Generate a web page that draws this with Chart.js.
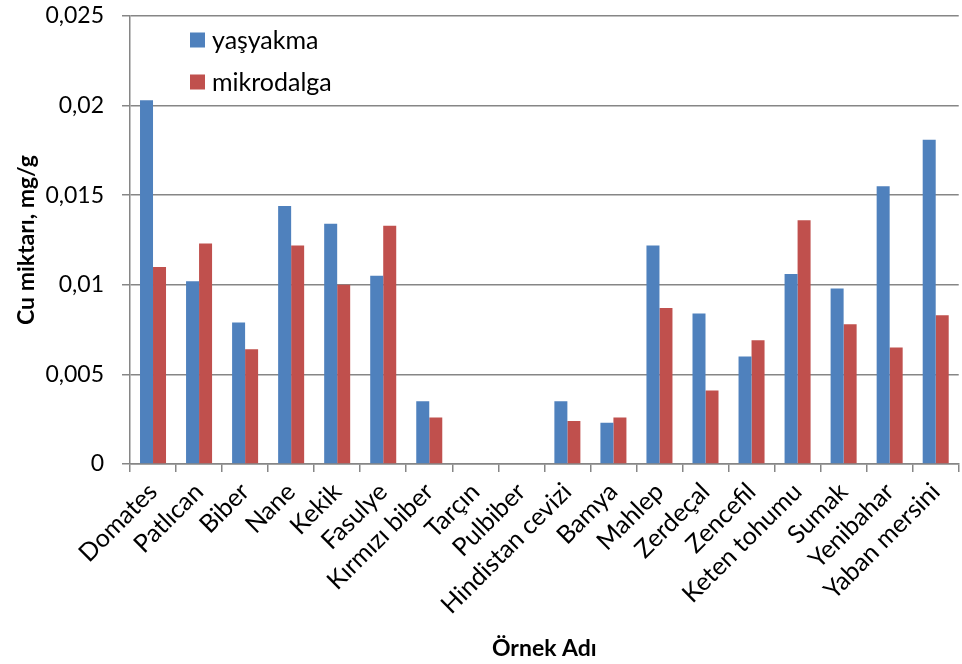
<!DOCTYPE html>
<html>
<head>
<meta charset="utf-8">
<script src="https://cdn.jsdelivr.net/npm/chart.js@4/dist/chart.umd.min.js"></script>
<style>
  html, body { margin: 0; padding: 0; background: #ffffff; }
  #wrap { width: 962px; height: 664px; }
</style>
</head>
<body>
<div id="wrap"><canvas id="c" width="962" height="664"></canvas></div>
<script>
// Sample names (x axis)
const categories = ['Domates', 'Patlıcan', 'Biber', 'Nane', 'Kekik', 'Fasulye',
  'Kırmızı biber', 'Tarçın', 'Pulbiber', 'Hindistan cevizi', 'Bamya', 'Mahlep',
  'Zerdeçal', 'Zencefil', 'Keten tohumu', 'Sumak', 'Yenibahar', 'Yaban mersini'];

// Cu content, mg/g — wet ashing
const yasyakma = [0.0203, 0.0102, 0.0079, 0.0144, 0.0134, 0.0105, 0.0035, 0, 0,
  0.0035, 0.0023, 0.0122, 0.0084, 0.0060, 0.0106, 0.0098, 0.0155, 0.0181];

// Cu content, mg/g — microwave digestion
const mikrodalga = [0.0110, 0.0123, 0.0064, 0.0122, 0.0100, 0.0133, 0.0026, 0, 0,
  0.0024, 0.0026, 0.0087, 0.0041, 0.0069, 0.0136, 0.0078, 0.0065, 0.0083];

// Y axis tick labels (decimal comma)
const yTickLabels = ['0', '0,005', '0,01', '0,015', '0,02', '0,025'];

const seriesNames = ['yaşyakma', 'mikrodalga'];
const seriesColors = ['#4F81BD', '#C0504D'];

const FONT = 'Lato';
const AXIS_GREY = '#868686';

Chart.defaults.font.family = FONT;
Chart.defaults.color = '#000000';

// Legend drawn inside the plot area, stacked vertically at the top left
const insideLegend = {
  id: 'insideLegend',
  afterDraw(chart) {
    const ctx = chart.ctx;
    const area = chart.chartArea;
    ctx.save();
    ctx.font = '25px ' + FONT;
    ctx.textBaseline = 'middle';
    ctx.textAlign = 'left';
    chart.data.datasets.forEach((ds, i) => {
      const cy = area.top + 24 + i * 42;
      ctx.fillStyle = ds.backgroundColor;
      ctx.fillRect(area.left + 60, cy - 7.5, 15, 15);
      ctx.fillStyle = '#000000';
      ctx.fillText(ds.label, area.left + 82, cy + 1);
    });
    ctx.restore();
  }
};

new Chart(document.getElementById('c'), {
  type: 'bar',
  data: {
    labels: categories,
    datasets: [
      { label: seriesNames[0], data: yasyakma, backgroundColor: seriesColors[0] },
      { label: seriesNames[1], data: mikrodalga, backgroundColor: seriesColors[1] }
    ]
  },
  options: {
    responsive: false,
    animation: false,
    devicePixelRatio: 1,
    layout: { padding: { top: 16, right: 3, left: 0, bottom: 0 } },
    datasets: {
      bar: { categoryPercentage: 0.565, barPercentage: 1.0, borderWidth: 0 }
    },
    plugins: {
      legend: { display: false },
      tooltip: { enabled: false }
    },
    scales: {
      x: {
        offset: true,
        grid: {
          offset: true,
          drawOnChartArea: false,
          drawTicks: true,
          tickLength: 8,
          color: AXIS_GREY,
          lineWidth: 1.5
        },
        border: { display: true, color: AXIS_GREY, width: 1.5 },
        ticks: {
          autoSkip: false,
          maxRotation: 45,
          minRotation: 45,
          padding: 5,
          font: { size: 25 },
          color: '#000000'
        },
        title: {
          display: true,
          text: 'Örnek Adı',
          font: { size: 23, weight: 'bold' },
          color: '#000000',
          padding: { top: 0, bottom: 2 }
        },
        afterFit(scale) { scale.height = 200; }
      },
      y: {
        min: 0,
        max: 0.025,
        ticks: {
          stepSize: 0.005,
          padding: 18,
          font: { size: 23 },
          color: '#000000',
          callback: (v, i) => yTickLabels[i]
        },
        grid: {
          drawTicks: true,
          tickLength: 8,
          color: AXIS_GREY,
          lineWidth: 1.5
        },
        border: { display: true, color: AXIS_GREY, width: 1.5 },
        title: {
          display: true,
          text: 'Cu miktarı, mg/g',
          font: { size: 23, weight: 'bold' },
          color: '#000000',
          padding: { top: 13, bottom: 0 }
        },
        afterFit(scale) {
          scale.width = 130;
          scale.paddingTop = 0;
          scale.paddingBottom = 0;
        }
      }
    }
  },
  plugins: [insideLegend]
});
</script>
</body>
</html>
